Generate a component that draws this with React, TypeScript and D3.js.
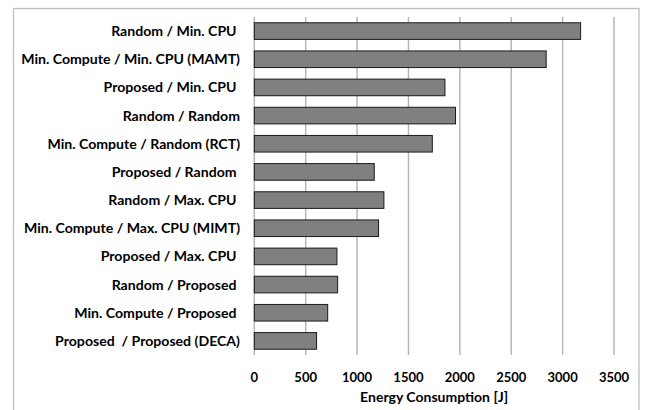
import React from "react";
import * as d3 from "d3";

const categories = [
  "Random / Min. CPU ",
  "Min. Compute / Min. CPU (MAMT)",
  "Proposed / Min. CPU ",
  "Random / Random",
  "Min. Compute / Random (RCT)",
  "Proposed / Random ",
  "Random / Max. CPU ",
  "Min. Compute / Max. CPU (MIMT)",
  "Proposed / Max. CPU ",
  "Random / Proposed ",
  "Min. Compute / Proposed ",
  "Proposed  / Proposed (DECA)",
];
const values = [3175, 2840, 1855, 1958, 1732, 1167, 1261, 1209, 804, 811, 714, 606];
const ticks = [0, 500, 1000, 1500, 2000, 2500, 3000, 3500];
const axisTitle = "Energy Consumption [J]";

const W = 645;
const H = 410;
const FONT = "Lato, 'Open Sans', sans-serif";

export default function App() {
  const x = d3.scaleLinear().domain([0, 3500]).range([254.3, 614]);
  const y = d3
    .scaleBand<string>()
    .domain(categories)
    .range([17, 355])
    .paddingInner(0.41)
    .paddingOuter(0.205);

  return (
    <svg
      width={W}
      height={H}
      style={{ position: "absolute", left: 0, top: 0, background: "#fff" }}
      fontFamily={FONT}
    >
      <rect x={0} y={0} width={W} height={H} fill="#fff" />
      <rect x={13.5} y={8.5} width={625.5} height={H + 20} fill="none" stroke="#bfbfbf" strokeWidth={1.3} />
      {ticks.map((t) => (
        <line key={t} x1={x(t)} x2={x(t)} y1={17} y2={355} stroke="#b3b3b3" strokeWidth={1.4} />
      ))}
      {categories.map((c, i) => (
        <rect
          key={c}
          x={x(0)}
          y={y(c)!}
          width={x(values[i]) - x(0)}
          height={y.bandwidth()}
          fill="#808080"
          stroke="#1a1a1a"
          strokeWidth={1}
        />
      ))}
      {categories.map((c) => (
        <text
          key={c}
          x={240}
          y={y(c)! + y.bandwidth() / 2}
          dy="0.35em"
          textAnchor="end"
          fontSize={14.1}
          fontWeight={700}
          fill="#000"
          style={{ whiteSpace: "pre" }}
        >
          {c}
        </text>
      ))}
      {ticks.map((t) => (
        <text key={t} x={x(t)} y={381.5} textAnchor="middle" fontSize={13} fontWeight={700} fill="#000">
          {t}
        </text>
      ))}
      <text x={(x(0) + x(3500)) / 2} y={401.5} textAnchor="middle" fontSize={14} fontWeight={700} fill="#000">
        {axisTitle}
      </text>
    </svg>
  );
}
